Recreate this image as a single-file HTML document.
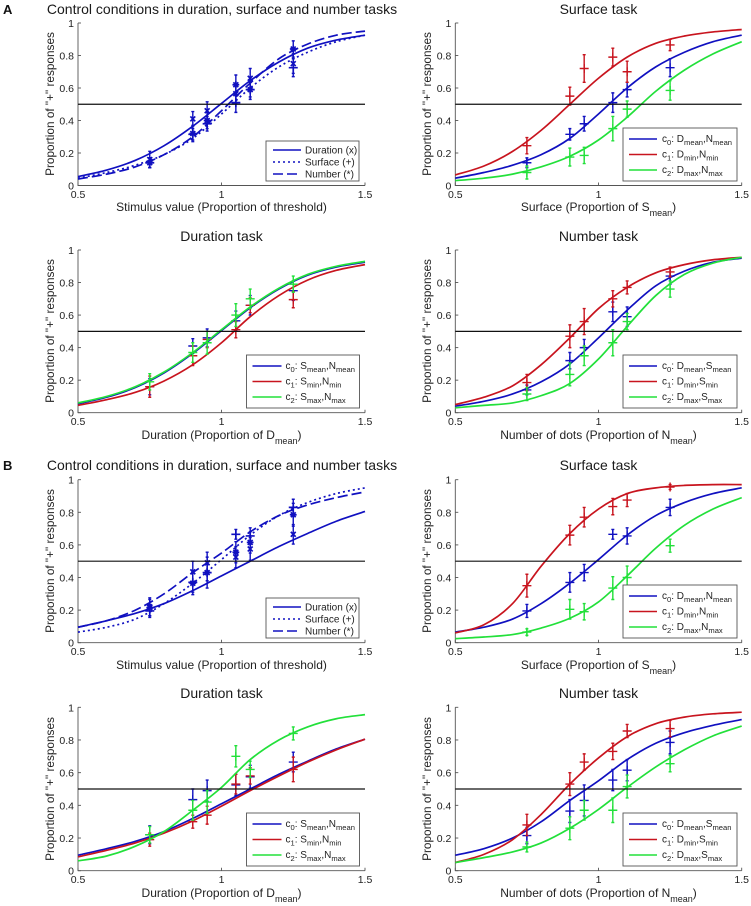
<!DOCTYPE html>
<html lang="en">
<head>
<meta charset="utf-8">
<title>Psychometric curves in duration, surface and number tasks</title>
<style>
html,body{margin:0;padding:0;background:#fff;}
svg{display:block;font-family:"Liberation Sans",sans-serif;fill:#222;filter:blur(0.3px);}
.title{font-size:14px;text-anchor:middle;fill:#1a1a1a;}
.xl{font-size:12px;text-anchor:middle;fill:#222;}
.yl{font-size:11.8px;text-anchor:middle;fill:#222;}
.tick{font-size:10.5px;fill:#222;}
.leg{font-size:10px;fill:#222;}
.leg .sub{font-size:7.6px;}
.sub{font-size:9px;}
.box{fill:#fff;stroke:#555;stroke-width:.9;}
.panel-letter{font-size:13px;font-weight:bold;fill:#111;}
</style>
</head>
<body>
<svg id="figure" xmlns="http://www.w3.org/2000/svg" width="751" height="906" viewBox="0 0 751 906">
<rect width="751" height="906" fill="#fff"/>
<text class="panel-letter" x="3" y="14">A</text>
<text class="panel-letter" x="3" y="470">B</text>

<g id="marks"></g>

<g>
<text class="title" x="222" y="14">Control conditions in duration, surface and number tasks</text>
<text class="title" x="598.5" y="14">Surface task</text>
<text class="title" x="221.5" y="241">Duration task</text>
<text class="title" x="598.5" y="241">Number task</text>
<text class="title" x="222" y="470">Control conditions in duration, surface and number tasks</text>
<text class="title" x="598.5" y="470">Surface task</text>
<text class="title" x="221.5" y="698">Duration task</text>
<text class="title" x="598.5" y="698">Number task</text>

<text class="xl" x="221.5" y="211">Stimulus value (Proportion of threshold)</text>
<text class="xl" x="598.5" y="211">Surface (Proportion of S<tspan class="sub" dy="5">mean</tspan><tspan dy="-5">)</tspan></text>
<text class="xl" x="221.5" y="439">Duration (Proportion of D<tspan class="sub" dy="5">mean</tspan><tspan dy="-5">)</tspan></text>
<text class="xl" x="598.5" y="439">Number of dots (Proportion of N<tspan class="sub" dy="5">mean</tspan><tspan dy="-5">)</tspan></text>
<text class="xl" x="221.5" y="669">Stimulus value (Proportion of threshold)</text>
<text class="xl" x="598.5" y="669">Surface (Proportion of S<tspan class="sub" dy="5">mean</tspan><tspan dy="-5">)</tspan></text>
<text class="xl" x="221.5" y="897">Duration (Proportion of D<tspan class="sub" dy="5">mean</tspan><tspan dy="-5">)</tspan></text>
<text class="xl" x="598.5" y="897">Number of dots (Proportion of N<tspan class="sub" dy="5">mean</tspan><tspan dy="-5">)</tspan></text>

<text class="yl" transform="translate(54,104) rotate(-90)">Proportion of "+" responses</text>
<text class="yl" transform="translate(431,104) rotate(-90)">Proportion of "+" responses</text>
<text class="yl" transform="translate(54,331) rotate(-90)">Proportion of "+" responses</text>
<text class="yl" transform="translate(431,331) rotate(-90)">Proportion of "+" responses</text>
<text class="yl" transform="translate(54,561) rotate(-90)">Proportion of "+" responses</text>
<text class="yl" transform="translate(431,561) rotate(-90)">Proportion of "+" responses</text>
<text class="yl" transform="translate(54,789) rotate(-90)">Proportion of "+" responses</text>
<text class="yl" transform="translate(431,789) rotate(-90)">Proportion of "+" responses</text>
</g>

<!-- control legends -->
<g transform="translate(266,141)">
<rect class="box" width="93" height="40"/>
<line x1="7" x2="35" y1="9" y2="9" stroke="#1010c0" stroke-width="1.5"/><text class="leg" x="39" y="12.5">Duration (x)</text>
<line x1="7" x2="35" y1="21" y2="21" stroke="#1010c0" stroke-width="1.5" stroke-dasharray="2 3"/><text class="leg" x="39" y="24.5">Surface (+)</text>
<line x1="7" x2="35" y1="33" y2="33" stroke="#1010c0" stroke-width="1.5" stroke-dasharray="10 4"/><text class="leg" x="39" y="36.5">Number (*)</text>
</g>
<g transform="translate(266,598)">
<rect class="box" width="93" height="40"/>
<line x1="7" x2="35" y1="9" y2="9" stroke="#1010c0" stroke-width="1.5"/><text class="leg" x="39" y="12.5">Duration (x)</text>
<line x1="7" x2="35" y1="21" y2="21" stroke="#1010c0" stroke-width="1.5" stroke-dasharray="2 3"/><text class="leg" x="39" y="24.5">Surface (+)</text>
<line x1="7" x2="35" y1="33" y2="33" stroke="#1010c0" stroke-width="1.5" stroke-dasharray="10 4"/><text class="leg" x="39" y="36.5">Number (*)</text>
</g>

<!-- condition legends -->
<g transform="translate(623,128)">
<rect class="box" width="114" height="53"/>
<line x1="6" x2="34" y1="11" y2="11" stroke="#1010c0" stroke-width="1.6"/><text class="leg" x="39" y="14">c<tspan class="sub" dy="3">0</tspan><tspan dy="-3">: D</tspan><tspan class="sub" dy="3">mean</tspan><tspan dy="-3">,N</tspan><tspan class="sub" dy="3">mean</tspan></text>
<line x1="6" x2="34" y1="26.5" y2="26.5" stroke="#c8141e" stroke-width="1.6"/><text class="leg" x="39" y="29.5">c<tspan class="sub" dy="3">1</tspan><tspan dy="-3">: D</tspan><tspan class="sub" dy="3">min</tspan><tspan dy="-3">,N</tspan><tspan class="sub" dy="3">min</tspan></text>
<line x1="6" x2="34" y1="42" y2="42" stroke="#22e03a" stroke-width="1.6"/><text class="leg" x="39" y="45">c<tspan class="sub" dy="3">2</tspan><tspan dy="-3">: D</tspan><tspan class="sub" dy="3">max</tspan><tspan dy="-3">,N</tspan><tspan class="sub" dy="3">max</tspan></text>
</g>
<g transform="translate(246.5,355)">
<rect class="box" width="113" height="53"/>
<line x1="6" x2="35" y1="11" y2="11" stroke="#1010c0" stroke-width="1.6"/><text class="leg" x="39" y="14">c<tspan class="sub" dy="3">0</tspan><tspan dy="-3">: S</tspan><tspan class="sub" dy="3">mean</tspan><tspan dy="-3">,N</tspan><tspan class="sub" dy="3">mean</tspan></text>
<line x1="6" x2="35" y1="26.5" y2="26.5" stroke="#c8141e" stroke-width="1.6"/><text class="leg" x="39" y="29.5">c<tspan class="sub" dy="3">1</tspan><tspan dy="-3">: S</tspan><tspan class="sub" dy="3">min</tspan><tspan dy="-3">,N</tspan><tspan class="sub" dy="3">min</tspan></text>
<line x1="6" x2="35" y1="42" y2="42" stroke="#22e03a" stroke-width="1.6"/><text class="leg" x="39" y="45">c<tspan class="sub" dy="3">2</tspan><tspan dy="-3">: S</tspan><tspan class="sub" dy="3">max</tspan><tspan dy="-3">,N</tspan><tspan class="sub" dy="3">max</tspan></text>
</g>
<g transform="translate(623,355)">
<rect class="box" width="114" height="53"/>
<line x1="6" x2="34" y1="11" y2="11" stroke="#1010c0" stroke-width="1.6"/><text class="leg" x="39" y="14">c<tspan class="sub" dy="3">0</tspan><tspan dy="-3">: D</tspan><tspan class="sub" dy="3">mean</tspan><tspan dy="-3">,S</tspan><tspan class="sub" dy="3">mean</tspan></text>
<line x1="6" x2="34" y1="26.5" y2="26.5" stroke="#c8141e" stroke-width="1.6"/><text class="leg" x="39" y="29.5">c<tspan class="sub" dy="3">1</tspan><tspan dy="-3">: D</tspan><tspan class="sub" dy="3">min</tspan><tspan dy="-3">,S</tspan><tspan class="sub" dy="3">min</tspan></text>
<line x1="6" x2="34" y1="42" y2="42" stroke="#22e03a" stroke-width="1.6"/><text class="leg" x="39" y="45">c<tspan class="sub" dy="3">2</tspan><tspan dy="-3">: D</tspan><tspan class="sub" dy="3">max</tspan><tspan dy="-3">,S</tspan><tspan class="sub" dy="3">max</tspan></text>
</g>
<g transform="translate(623,585)">
<rect class="box" width="114" height="53"/>
<line x1="6" x2="34" y1="11" y2="11" stroke="#1010c0" stroke-width="1.6"/><text class="leg" x="39" y="14">c<tspan class="sub" dy="3">0</tspan><tspan dy="-3">: D</tspan><tspan class="sub" dy="3">mean</tspan><tspan dy="-3">,N</tspan><tspan class="sub" dy="3">mean</tspan></text>
<line x1="6" x2="34" y1="26.5" y2="26.5" stroke="#c8141e" stroke-width="1.6"/><text class="leg" x="39" y="29.5">c<tspan class="sub" dy="3">1</tspan><tspan dy="-3">: D</tspan><tspan class="sub" dy="3">min</tspan><tspan dy="-3">,N</tspan><tspan class="sub" dy="3">min</tspan></text>
<line x1="6" x2="34" y1="42" y2="42" stroke="#22e03a" stroke-width="1.6"/><text class="leg" x="39" y="45">c<tspan class="sub" dy="3">2</tspan><tspan dy="-3">: D</tspan><tspan class="sub" dy="3">max</tspan><tspan dy="-3">,N</tspan><tspan class="sub" dy="3">max</tspan></text>
</g>
<g transform="translate(246.5,813)">
<rect class="box" width="113" height="53"/>
<line x1="6" x2="35" y1="11" y2="11" stroke="#1010c0" stroke-width="1.6"/><text class="leg" x="39" y="14">c<tspan class="sub" dy="3">0</tspan><tspan dy="-3">: S</tspan><tspan class="sub" dy="3">mean</tspan><tspan dy="-3">,N</tspan><tspan class="sub" dy="3">mean</tspan></text>
<line x1="6" x2="35" y1="26.5" y2="26.5" stroke="#c8141e" stroke-width="1.6"/><text class="leg" x="39" y="29.5">c<tspan class="sub" dy="3">1</tspan><tspan dy="-3">: S</tspan><tspan class="sub" dy="3">min</tspan><tspan dy="-3">,N</tspan><tspan class="sub" dy="3">min</tspan></text>
<line x1="6" x2="35" y1="42" y2="42" stroke="#22e03a" stroke-width="1.6"/><text class="leg" x="39" y="45">c<tspan class="sub" dy="3">2</tspan><tspan dy="-3">: S</tspan><tspan class="sub" dy="3">max</tspan><tspan dy="-3">,N</tspan><tspan class="sub" dy="3">max</tspan></text>
</g>
<g transform="translate(623,813)">
<rect class="box" width="114" height="53"/>
<line x1="6" x2="34" y1="11" y2="11" stroke="#1010c0" stroke-width="1.6"/><text class="leg" x="39" y="14">c<tspan class="sub" dy="3">0</tspan><tspan dy="-3">: D</tspan><tspan class="sub" dy="3">mean</tspan><tspan dy="-3">,S</tspan><tspan class="sub" dy="3">mean</tspan></text>
<line x1="6" x2="34" y1="26.5" y2="26.5" stroke="#c8141e" stroke-width="1.6"/><text class="leg" x="39" y="29.5">c<tspan class="sub" dy="3">1</tspan><tspan dy="-3">: D</tspan><tspan class="sub" dy="3">min</tspan><tspan dy="-3">,S</tspan><tspan class="sub" dy="3">min</tspan></text>
<line x1="6" x2="34" y1="42" y2="42" stroke="#22e03a" stroke-width="1.6"/><text class="leg" x="39" y="45">c<tspan class="sub" dy="3">2</tspan><tspan dy="-3">: D</tspan><tspan class="sub" dy="3">max</tspan><tspan dy="-3">,S</tspan><tspan class="sub" dy="3">max</tspan></text>
</g>
</svg>

<script>
const xTickLabels = ["0.5", "1", "1.5"];
const xTickValues = [0.5, 1, 1.5];
const yTickLabels = ["0", "0.2", "0.4", "0.6", "0.8", "1"];
const yTickValues = [0, 0.2, 0.4, 0.6, 0.8, 1];
const thresholdValue = 0.5;
const sampleX = [0.5, 0.6, 0.7, 0.8, 0.9, 1.0, 1.1, 1.2, 1.3, 1.4, 1.5];
const stimulusLevels = [0.75, 0.9, 0.95, 1.05, 1.1, 1.25];

/* Section A: fitted curves */
const aDurC0Curve = [0.055, 0.095, 0.155, 0.245, 0.365, 0.505, 0.645, 0.76, 0.845, 0.895, 0.925];
const aDurC1Curve = [0.045, 0.08, 0.125, 0.195, 0.295, 0.43, 0.59, 0.72, 0.815, 0.875, 0.91];
const aDurC2Curve = [0.06, 0.1, 0.16, 0.25, 0.37, 0.51, 0.65, 0.765, 0.85, 0.9, 0.93];
const aSurfC0Curve = [0.045, 0.08, 0.125, 0.19, 0.29, 0.44, 0.6, 0.73, 0.82, 0.885, 0.925];
const aSurfC1Curve = [0.065, 0.12, 0.21, 0.34, 0.5, 0.66, 0.79, 0.875, 0.92, 0.945, 0.96];
const aSurfC2Curve = [0.03, 0.045, 0.07, 0.115, 0.18, 0.28, 0.42, 0.58, 0.71, 0.81, 0.885];
const aNumC0Curve = [0.04, 0.07, 0.115, 0.19, 0.3, 0.46, 0.63, 0.78, 0.87, 0.925, 0.95];
const aNumC1Curve = [0.05, 0.095, 0.165, 0.295, 0.46, 0.64, 0.77, 0.86, 0.91, 0.94, 0.955];
const aNumC2Curve = [0.03, 0.045, 0.06, 0.105, 0.18, 0.33, 0.53, 0.72, 0.85, 0.92, 0.955];

/* Section A: means and error half-widths */
const aDurC0Mean = [0.16, 0.41, 0.46, 0.565, 0.66, 0.75];
const aDurC0Err = [0.05, 0.045, 0.055, 0.06, 0.06, 0.06];
const aDurC1Mean = [0.16, 0.35, 0.45, 0.51, 0.66, 0.695];
const aDurC1Err = [0.065, 0.06, 0.05, 0.05, 0.045, 0.05];
const aDurC2Mean = [0.19, 0.37, 0.43, 0.6, 0.7, 0.79];
const aDurC2Err = [0.05, 0.06, 0.07, 0.07, 0.06, 0.05];
const aSurfC0Mean = [0.14, 0.315, 0.38, 0.51, 0.59, 0.725];
const aSurfC0Err = [0.03, 0.035, 0.045, 0.06, 0.045, 0.055];
const aSurfC1Mean = [0.245, 0.55, 0.72, 0.79, 0.7, 0.865];
const aSurfC1Err = [0.05, 0.055, 0.085, 0.055, 0.065, 0.035];
const aSurfC2Mean = [0.08, 0.175, 0.185, 0.35, 0.47, 0.585];
const aSurfC2Err = [0.04, 0.055, 0.05, 0.075, 0.05, 0.06];
const aNumC0Mean = [0.14, 0.32, 0.4, 0.62, 0.59, 0.84];
const aNumC0Err = [0.03, 0.05, 0.05, 0.06, 0.06, 0.05];
const aNumC1Mean = [0.185, 0.47, 0.56, 0.7, 0.77, 0.865];
const aNumC1Err = [0.05, 0.07, 0.08, 0.05, 0.04, 0.03];
const aNumC2Mean = [0.115, 0.235, 0.35, 0.43, 0.56, 0.76];
const aNumC2Err = [0.04, 0.07, 0.06, 0.08, 0.05, 0.05];

/* Section B: fitted curves */
const bDurC0Curve = [0.095, 0.135, 0.18, 0.24, 0.32, 0.41, 0.5, 0.59, 0.67, 0.745, 0.805];
const bDurC1Curve = [0.085, 0.125, 0.17, 0.23, 0.305, 0.395, 0.49, 0.58, 0.665, 0.74, 0.805];
const bDurC2Curve = [0.06, 0.09, 0.15, 0.24, 0.37, 0.51, 0.68, 0.8, 0.88, 0.93, 0.955];
const bSurfC0Curve = [0.065, 0.095, 0.145, 0.24, 0.365, 0.51, 0.66, 0.78, 0.86, 0.915, 0.95];
const bSurfC1Curve = [0.06, 0.11, 0.24, 0.47, 0.67, 0.82, 0.915, 0.95, 0.965, 0.97, 0.97];
const bSurfC2Curve = [0.025, 0.035, 0.05, 0.09, 0.15, 0.25, 0.41, 0.58, 0.72, 0.82, 0.89];
const bNumC0Curve = [0.095, 0.135, 0.2, 0.3, 0.43, 0.55, 0.68, 0.78, 0.845, 0.89, 0.925];
const bNumC1Curve = [0.05, 0.1, 0.19, 0.345, 0.53, 0.69, 0.82, 0.9, 0.94, 0.96, 0.97];
const bNumC2Curve = [0.05, 0.08, 0.115, 0.17, 0.26, 0.375, 0.51, 0.635, 0.74, 0.825, 0.885];

/* Section B: means and error half-widths */
const bDurC0Mean = [0.22, 0.435, 0.49, 0.525, 0.575, 0.665];
const bDurC0Err = [0.055, 0.065, 0.065, 0.065, 0.07, 0.06];
const bDurC1Mean = [0.19, 0.3, 0.34, 0.53, 0.58, 0.62];
const bDurC1Err = [0.04, 0.04, 0.055, 0.06, 0.05, 0.075];
const bDurC2Mean = [0.22, 0.37, 0.42, 0.7, 0.62, 0.84];
const bDurC2Err = [0.05, 0.06, 0.07, 0.065, 0.05, 0.04];
const bSurfC0Mean = [0.195, 0.37, 0.43, 0.665, 0.655, 0.83];
const bSurfC0Err = [0.04, 0.06, 0.05, 0.03, 0.05, 0.05];
const bSurfC1Mean = [0.35, 0.66, 0.77, 0.835, 0.875, 0.955];
const bSurfC1Err = [0.07, 0.06, 0.06, 0.05, 0.04, 0.015];
const bSurfC2Mean = [0.065, 0.205, 0.19, 0.335, 0.4, 0.595];
const bSurfC2Err = [0.02, 0.06, 0.05, 0.07, 0.07, 0.04];
const bNumC0Mean = [0.215, 0.365, 0.43, 0.555, 0.615, 0.785];
const bNumC0Err = [0.05, 0.07, 0.095, 0.065, 0.065, 0.07];
const bNumC1Mean = [0.28, 0.53, 0.665, 0.73, 0.855, 0.87];
const bNumC1Err = [0.065, 0.07, 0.05, 0.05, 0.04, 0.05];
const bNumC2Mean = [0.145, 0.26, 0.37, 0.37, 0.515, 0.655];
const bNumC2Err = [0.03, 0.07, 0.06, 0.075, 0.07, 0.05];

const BLUE = "#1010c0", RED = "#c8141e", GREEN = "#22e03a";
const SVGNS = "http://www.w3.org/2000/svg";
const root = document.getElementById("marks");

function el(tag, parent, attrs) {
  const n = document.createElementNS(SVGNS, tag);
  for (const k in attrs) n.setAttribute(k, attrs[k]);
  parent.appendChild(n);
  return n;
}

function splinePath(xs, ys, sx, sy) {
  const p = xs.map((x, i) => [sx(x), sy(ys[i])]);
  let d = "M" + p[0][0].toFixed(2) + " " + p[0][1].toFixed(2);
  for (let i = 0; i < p.length - 1; i++) {
    const a = p[Math.max(0, i - 1)], b = p[i], c = p[i + 1], e = p[Math.min(p.length - 1, i + 2)];
    const c1x = b[0] + (c[0] - a[0]) / 6, c1y = b[1] + (c[1] - a[1]) / 6;
    const c2x = c[0] - (e[0] - b[0]) / 6, c2y = c[1] - (e[1] - b[1]) / 6;
    d += "C" + c1x.toFixed(2) + " " + c1y.toFixed(2) + " " + c2x.toFixed(2) + " " + c2y.toFixed(2) + " " + c[0].toFixed(2) + " " + c[1].toFixed(2);
  }
  return d;
}

function markerPath(kind, x, y, r) {
  const h = "M" + (x - r) + " " + y + "H" + (x + r) + "M" + x + " " + (y - r) + "V" + (y + r);
  const k = r * 0.72;
  const c = "M" + (x - k) + " " + (y - k) + "L" + (x + k) + " " + (y + k) + "M" + (x - k) + " " + (y + k) + "L" + (x + k) + " " + (y - k);
  if (kind === "x") return c;
  if (kind === "star") return h + c;
  return h;
}

function drawPanel(p) {
  const g = el("g", root, {});
  
  
  const sx = v => p.left + (v - 0.5) * (p.right - p.left);
  const sy = v => p.bottom - v * (p.bottom - p.top);

  const axisG = el("g", g, { stroke: "#555", "stroke-width": 0.9, fill: "none" });
  
  
  el("path", axisG, { d: "M" + p.left + " " + p.top + "V" + p.bottom + "H" + p.right });

  xTickValues.forEach((v, i) => {
    el("line", axisG, { x1: sx(v), x2: sx(v), y1: p.bottom, y2: p.bottom - 3 });
    const t = el("text", g, { class: "tick", x: sx(v), y: p.bottom + 12.5, "text-anchor": "middle" });
    
    
    t.textContent = xTickLabels[i];
  });
  yTickValues.forEach((v, i) => {
    el("line", axisG, { x1: p.left, x2: p.left + 3, y1: sy(v), y2: sy(v) });
    const t = el("text", g, { class: "tick", x: p.left - 4, y: sy(v) + 4, "text-anchor": "end" });
    
    
    t.textContent = yTickLabels[i];
  });

  p.series.forEach(s => {
    const sg = el("g", g, { fill: "none", stroke: s.color });
    
    
    stimulusLevels.forEach((lvl, i) => {
      const x = sx(lvl), m = s.mean[i], e = s.err[i];
      const y0 = sy(m - e), y1 = sy(m + e);
      const bar = el("path", sg, {
        d: "M" + x + " " + y0 + "V" + y1 + "M" + (x - 1.5) + " " + y0 + "H" + (x + 1.5) + "M" + (x - 1.5) + " " + y1 + "H" + (x + 1.5),
        "stroke-width": 1.4
      });
      
      
      const mk = el("path", sg, { d: markerPath(s.marker, x, sy(m), s.marker === "plus" ? 4.5 : 3.4), "stroke-width": p.heavy ? 1.7 : 1.4 });
      
      
    });
    const attrs = { d: splinePath(sampleX, s.curve, sx, sy), "stroke-width": 1.7 };
    if (s.dash) attrs["stroke-dasharray"] = s.dash;
    const line = el("path", sg, attrs);
    
    
  });

  const th = el("line", g, { x1: sx(0.5), x2: sx(1.5), y1: sy(thresholdValue), y2: sy(thresholdValue), stroke: "#111", "stroke-width": 1.2 });
  
  
}

function control(name, top, bottom, dc, dm, de, sc, sm, se, nc, nm, ne) {
  return { name, left: 78, right: 365, top, bottom, heavy: true, series: [
    { key: "duration", color: BLUE, marker: "x", curve: dc, mean: dm, err: de },
    { key: "surface", color: BLUE, marker: "plus", curve: sc, mean: sm, err: se, dash: "2 3" },
    { key: "number", color: BLUE, marker: "star", curve: nc, mean: nm, err: ne, dash: "10 4" }
  ]};
}
function triple(name, left, right, top, bottom, c0, m0, e0, c1, m1, e1, c2, m2, e2) {
  return { name, left, right, top, bottom, series: [
    { key: "c0", color: BLUE, marker: "plus", curve: c0, mean: m0, err: e0 },
    { key: "c1", color: RED, marker: "plus", curve: c1, mean: m1, err: e1 },
    { key: "c2", color: GREEN, marker: "plus", curve: c2, mean: m2, err: e2 }
  ]};
}

const LX0 = 78, LX1 = 365, RX0 = 455.3, RX1 = 741.7;
[
  control("a-control", 23, 185.5, aDurC0Curve, aDurC0Mean, aDurC0Err, aSurfC0Curve, aSurfC0Mean, aSurfC0Err, aNumC0Curve, aNumC0Mean, aNumC0Err),
  triple("a-surface", RX0, RX1, 23, 185.5, aSurfC0Curve, aSurfC0Mean, aSurfC0Err, aSurfC1Curve, aSurfC1Mean, aSurfC1Err, aSurfC2Curve, aSurfC2Mean, aSurfC2Err),
  triple("a-duration", LX0, LX1, 250, 412.7, aDurC0Curve, aDurC0Mean, aDurC0Err, aDurC1Curve, aDurC1Mean, aDurC1Err, aDurC2Curve, aDurC2Mean, aDurC2Err),
  triple("a-number", RX0, RX1, 250, 412.7, aNumC0Curve, aNumC0Mean, aNumC0Err, aNumC1Curve, aNumC1Mean, aNumC1Err, aNumC2Curve, aNumC2Mean, aNumC2Err),
  control("b-control", 479.7, 642.7, bDurC0Curve, bDurC0Mean, bDurC0Err, bSurfC0Curve, bSurfC0Mean, bSurfC0Err, bNumC0Curve, bNumC0Mean, bNumC0Err),
  triple("b-surface", RX0, RX1, 479.7, 642.7, bSurfC0Curve, bSurfC0Mean, bSurfC0Err, bSurfC1Curve, bSurfC1Mean, bSurfC1Err, bSurfC2Curve, bSurfC2Mean, bSurfC2Err),
  triple("b-duration", LX0, LX1, 707.3, 870.7, bDurC0Curve, bDurC0Mean, bDurC0Err, bDurC1Curve, bDurC1Mean, bDurC1Err, bDurC2Curve, bDurC2Mean, bDurC2Err),
  triple("b-number", RX0, RX1, 707.3, 870.7, bNumC0Curve, bNumC0Mean, bNumC0Err, bNumC1Curve, bNumC1Mean, bNumC1Err, bNumC2Curve, bNumC2Mean, bNumC2Err)
].forEach(drawPanel);
</script>
</body>
</html>
